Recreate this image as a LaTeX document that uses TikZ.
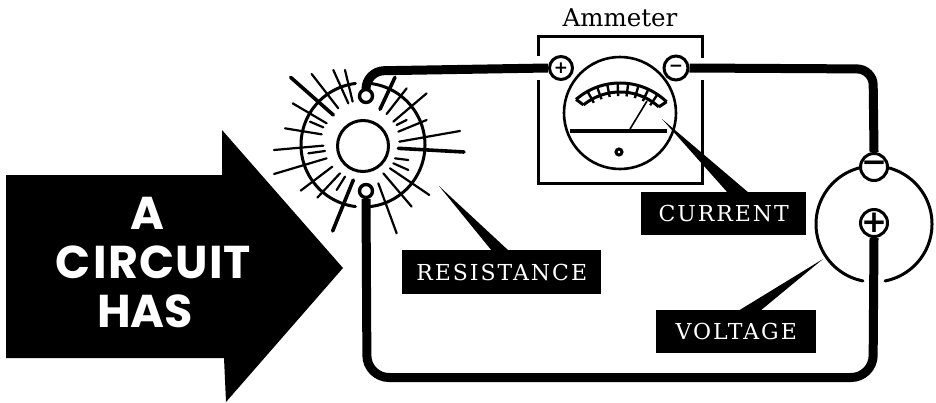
\documentclass[tikz,border=0pt]{standalone}
\usepackage{fontspec}
\setmainfont{DejaVu Serif}
\newfontfamily\arrowfont{Poppins}
\newfontfamily\termfont{DejaVu Sans}
\newfontfamily\tagfont[LetterSpace=9]{DejaVu Serif}
\newcommand{\myarc}[6][]{\draw[#1] plot[domain=#5:#6,samples=70] ({#2+#4*cos(\x)},{#3-#4*sin(\x)});}
\tikzset{
  x=1pt,y=-1pt,
  wire/.style={draw=black,line width=9pt,line cap=butt},
  terminal/.style={circle,draw=black,fill=white,line width=3pt,inner sep=0pt},
  signsmall/.style={inner sep=0pt,text=black,font=\termfont\bfseries\fontsize{17}{17}\selectfont},
  signbig/.style={inner sep=0pt,text=black,font=\termfont\bfseries\fontsize{31}{31}\selectfont},
  contact/.style={circle,draw=black,fill=white,line width=3.4pt,inner sep=0pt,minimum size=13pt},
  tag/.style={fill=black,text=white,inner sep=0pt,anchor=north west},
  tagtext/.style={text=white,inner sep=0pt,font=\tagfont\fontsize{22}{24}\selectfont},
  ray/.style={line width=2.2pt,line cap=round},
  fatray/.style={line width=3.6pt,line cap=round},
  thin arc/.style={line width=3pt,line cap=round},
  pointer/.style={fill=black,draw=none},
  arrowtext/.style={text=white,font=\arrowfont\bfseries\fontsize{46}{46}\selectfont,inner sep=0pt}
}
\begin{document}
\begin{tikzpicture}
\useasboundingbox (0,0) rectangle (936,402);
% big arrow
\fill[black] (6,175) -- (222,175) -- (222,130) -- (343,268) -- (226,402) -- (224,358) -- (6,358) -- cycle;
\node[arrowtext] (txa) at (147,213) {A};
\node[arrowtext] (txb) at (153,262) {C\hspace{3pt}I\hspace{2pt}R\hspace{1pt}C\hspace{1pt}U\hspace{1pt}I\hspace{1pt}T};
\node[arrowtext] (txc) at (145,311) {HAS};
% bulb
\node[circle,draw=black,line width=3pt,minimum size=51pt,inner sep=0pt] (filament) at (363,146) {};
\myarc[thin arc]{363}{145}{62}{-84}{82}
\myarc[thin arc]{363}{145}{62}{97}{263}
\begin{scope}[shift={(260,70)},x=0.3333pt,y=-0.3333pt]
\foreach \a/\b/\c/\d in {155/12/235/115,220/0/265/100,255/0/278/95,440/55/380/132,500/70/400/155,500/150/415/185,600/183/418/215,
  445/270/405/265,445/300/400/280,508/375/390/295,455/410/370/310,410/490/355/340,172/383/240/310,122/362/217/290,42/312/200/265,
  145/250/195/243,42/240/190/227,75/175/185/193,150/155/190/172,98/100/200/160,230/360/255/320,440/150/410/165}
  {\draw[ray] (\a,\b) -- (\c,\d);}
\foreach \a/\b/\c/\d in {92/22/220/135,405/22/360/118,612/246/415/235,218/483/280/330}
  {\draw[fatray] (\a,\b) -- (\c,\d);}
\end{scope}
\node[contact] (ctop) at (366,96) {};
\node[contact] (cbot) at (366,191) {};
% ammeter
\draw[line width=3pt] (538,56) -- (538,36) -- (702,36) -- (702,58);
\draw[line width=3pt] (538,80) -- (538,183) -- (702,183) -- (702,80);
\node[font=\fontsize{24.5}{26}\selectfont,inner sep=0pt] (amlabel) at (620,18) {Ammeter};
\node[circle,draw=black,line width=2.6pt,minimum size=112pt,inner sep=0pt] (dial) at (620,113) {};
\draw[line width=3.6pt] (570,131) -- (667,131);
\node[circle,draw=black,line width=3pt,minimum size=6pt,inner sep=0pt] (knob) at (619,152) {};
\myarc[line width=3pt]{620}{150}{67}{46}{131}
\myarc[line width=3pt]{620}{150}{58}{48}{129}
\draw[line width=3pt] ({620+67*cos(131)},{150-67*sin(131)}) -- ({620+58*cos(129)},{150-58*sin(129)});
\draw[line width=3pt] ({620+67*cos(46)},{150-67*sin(46)}) -- ({620+58*cos(48)},{150-58*sin(48)});
\foreach \t in {56,65,...,125}
  {\draw[line width=2.4pt] ({620+67*cos(\t)},{150-67*sin(\t)}) -- ({620+54*cos(\t)},{150-54*sin(\t)});}
\draw[line width=1.6pt] (630,129) -- (647,101);
% terminals
\node[terminal,minimum size=23pt] (ap) at (561,68) {};
\node[signsmall] (aps) at (ap.center) {+};
\node[terminal,minimum size=24pt] (am) at (676,68) {};
\node[signsmall] (ams) at (am.center) {−};
% cell
\myarc[thin arc]{874}{224}{58}{-79}{76}
\myarc[thin arc]{874}{224}{58}{104}{259}
\node[terminal,minimum size=27pt] (bm) at (874,167) {};
\node[signbig] (bms) at (bm.center) {−};
\node[terminal,minimum size=27pt] (bp) at (874,223) {};
\node[signbig] (bps) at (bp.center) {+};
% wires
\draw[wire,rounded corners=18pt] (ctop.north) -- (366,71) -- (ap.west);
\draw[wire,rounded corners=16pt] (am.east) -- (873,69) -- (bm.north);
\draw[wire,rounded corners=22pt] (bp.south) -- (873,377.5) -- (367,377.5) -- (cbot.south);
% tags
\node[tag,minimum width=165pt,minimum height=43pt] (tagc) at (641,192) {};
\node[tagtext] (tagctext) at (tagc.center) {CURRENT};
\node[tag,minimum width=160pt,minimum height=43pt] (tagv) at (656,310) {};
\node[tagtext] (tagvtext) at (tagv.center) {VOLTAGE};
\node[tag,minimum width=199pt,minimum height=44pt] (tagr) at (402,250) {};
\node[tagtext] (tagrtext) at (tagr.center) {RESISTANCE};
% pointers
\fill[pointer] (662,119) -- (749,193) -- (728,193) -- cycle;
\fill[pointer] (823,259) -- (760,311) -- (738,311) -- cycle;
\fill[pointer] (439,186) -- (509,251) -- (492,251) -- cycle;
\end{tikzpicture}
\end{document}
